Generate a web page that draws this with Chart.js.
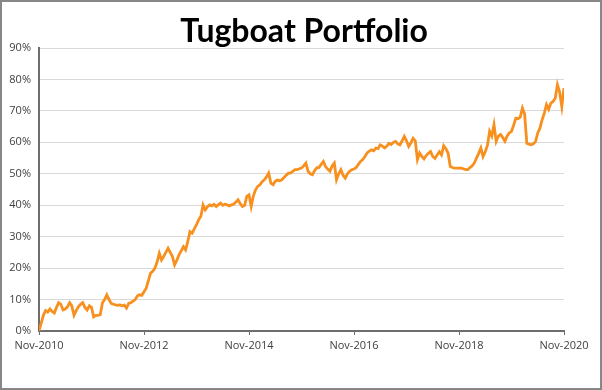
<!DOCTYPE html>
<html>
<head>
<meta charset="utf-8">
<script src="https://cdn.jsdelivr.net/npm/chart.js@4/dist/chart.umd.min.js"></script>
<style>
    html, body { margin: 0; padding: 0; background: #fff; }
    #wrap { width: 602px; height: 390px; box-sizing: border-box; border: 2px solid #878787; }
    canvas { display: block; }
</style>
</head>
<body>
<div id="wrap"><canvas id="tugboatChart" width="598" height="386"></canvas></div>
<script>
// Portfolio return in %, read at half-month steps starting Nov-2010
const yr1 = [0, 2.5, 5, 6.5, 6, 7, 6.2, 5.7, 7.5, 9, 8.5, 6.7, 7, 7.7, 9, 8, 5, 6.5, 7.7, 8.5, 9, 7.5, 6.7, 8];
const yr2 = [7.5, 4.5, 5, 5, 5.2, 9, 10, 11.5, 10, 8.8, 8.5, 8.3, 8.2, 8.3, 8, 8.2, 7.3, 8.8, 9, 9.5, 10, 11.2, 11.5, 11.3];
const yr3 = [12.5, 13.6, 16, 18.4, 19, 20, 22, 24.7, 22.6, 23.7, 25, 26.3, 25, 23.7, 21, 22.5, 24.2, 25.5, 26.8, 25.8, 28.4, 31.6, 31.1, 32.5];
const yr4 = [33.8, 35.4, 36.5, 40.1, 38.5, 39.5, 40.1, 39.8, 40.3, 39.6, 40.2, 40.7, 40, 40.3, 40.1, 39.8, 40.1, 40.3, 41, 41.7, 40.5, 39.6, 40, 42.8];
const yr5 = [43.3, 39.6, 43, 44.9, 46, 46.5, 47.5, 48.1, 49, 50.2, 47, 46.5, 47.6, 48, 47.8, 48.1, 48.8, 49.5, 50.2, 50.2, 50.8, 51.3, 51.3, 51.6];
const yr6 = [51.8, 52.5, 53.4, 50.8, 50, 49.7, 51, 51.9, 52, 53, 53.9, 52.3, 51.5, 50.8, 52.5, 53.4, 48.1, 50, 51.3, 49.5, 48.6, 50, 50.8, 51.3];
const yr7 = [51.5, 52, 53, 53.9, 54.5, 55.5, 56.6, 57.2, 57.6, 57.3, 58.2, 58, 59.2, 58.8, 58.2, 58.8, 59.7, 59.3, 60, 60.3, 59.5, 59.2, 60.5, 61.9];
const yr8 = [60.5, 58.7, 59.8, 61.3, 60.5, 54.5, 56.6, 55.5, 54.7, 55.8, 56.5, 57.1, 55.5, 54.9, 56, 57, 56, 58.9, 58, 56.6, 52.3, 52, 51.8, 51.8];
const yr9 = [51.8, 51.8, 51.6, 51.3, 51.3, 52, 52.5, 53.4, 55, 56.5, 58.2, 55.5, 57, 59, 63.5, 62, 65.6, 60.3, 62, 62.5, 61.5, 60.3, 62, 63];
const yr10 = [63.5, 65.5, 67.7, 67.5, 68, 70.9, 69, 59.7, 59.4, 59.2, 59.5, 60.3, 63, 64.5, 67.2, 69.3, 72, 70.5, 72.5, 73, 74, 78.3, 76, 71.4, 77.3];

const portfolio = [].concat(yr1, yr2, yr3, yr4, yr5, yr6, yr7, yr8, yr9, yr10);
const tickLabels = ['Nov-2010', 'Nov-2012', 'Nov-2014', 'Nov-2016', 'Nov-2018', 'Nov-2020'];

// x is months since Nov-2010
const points = portfolio.map((v, i) => ({ x: i / 2, y: v }));

const axisFont = { family: 'Open Sans', size: 11 };

const tugboatChart = new Chart(document.getElementById('tugboatChart'), {
    type: 'line',
    data: {
        datasets: [{
            label: 'Tugboat Portfolio',
            data: points,
            borderColor: '#f7901e',
            borderWidth: 2.8,
            pointRadius: 0,
            tension: 0,
            fill: false
        }]
    },
    options: {
        responsive: false,
        animation: false,
        layout: { padding: { left: 6, right: 0, top: 0, bottom: 0 } },
        plugins: {
            legend: { display: false },
            tooltip: { enabled: false },
            title: {
                display: true,
                text: 'Tugboat Portfolio',
                color: '#000',
                font: { family: 'Lato', size: 32, weight: 'bold', lineHeight: 1 },
                padding: { top: 14, bottom: 0 }
            }
        },
        scales: {
            x: {
                type: 'linear',
                min: 0,
                max: 120,
                afterFit: (s) => { s.height = 57; },
                afterBuildTicks: (s) => { s.ticks = tickLabels.map((t, i) => ({ value: i * 24 })); },
                ticks: {
                    color: '#404040',
                    font: axisFont,
                    padding: 4,
                    maxRotation: 0,
                    callback: (v) => tickLabels[v / 24]
                },
                grid: { drawOnChartArea: false, tickLength: 4, color: '#6e6e6e', tickWidth: 1 },
                border: { color: '#6e6e6e', width: 2 }
            },
            y: {
                min: 0,
                max: 90,
                afterFit: (s) => { s.width = 31; },
                ticks: {
                    stepSize: 10,
                    color: '#404040',
                    font: axisFont,
                    padding: 8,
                    callback: (v) => v + '%'
                },
                grid: { color: '#d9d9d9', lineWidth: 1, drawTicks: false },
                border: { color: '#6e6e6e', width: 2 }
            },
            // empty right-hand axis that only holds the margin
            yRight: {
                position: 'right',
                min: 0,
                max: 90,
                afterFit: (s) => { s.width = 36; },
                ticks: { display: false },
                grid: { display: false, drawTicks: false },
                border: { display: false }
            }
        }
    }
});
</script>
</body>
</html>
